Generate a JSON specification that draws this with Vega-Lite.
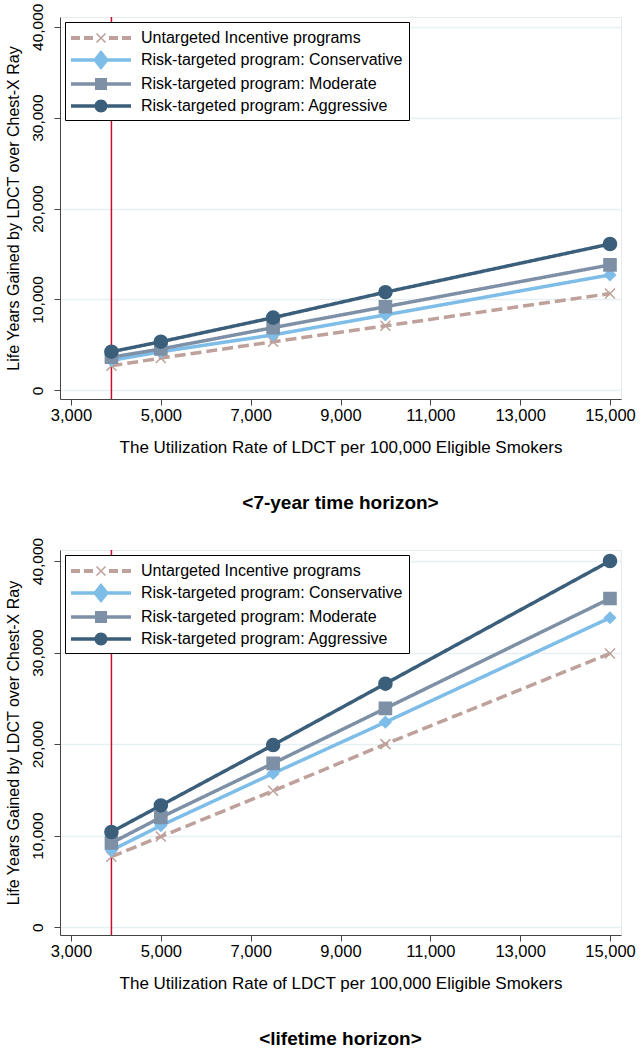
{
  "$schema": "https://vega.github.io/schema/vega-lite/v6.json",
  "background": "white",
  "padding": {"left": 4, "top": 2, "right": 4, "bottom": 0},
  "config": {
    "font": "Liberation Sans",
    "view": {"stroke": "#e3ebee", "strokeWidth": 1},
    "axis": {
      "titleFontWeight": "normal",
      "labelColor": "#000", "titleColor": "#000", "domainColor": "#444", "tickColor": "#444",
      "tickSize": 6, "labelFlush": false, "labelOverlap": false
    },
    "axisX": {"grid": false, "labelFontSize": 16.5, "titleFontSize": 17, "labelPadding": 2, "titlePadding": 16},
    "axisY": {"grid": true, "gridColor": "#e6eff1", "gridWidth": 1.5, "labelFontSize": 15.5, "titleFontSize": 16, "labelAngle": -90, "labelAlign": "center", "labelBaseline": "bottom", "labelPadding": 9, "titlePadding": 9},
    "legend": {
      "orient": "top-left", "offset": 5, "strokeColor": "#000", "strokeWidth": 1, "fillColor": "white",
      "padding": 6, "labelFontSize": 16, "labelColor": "#000", "rowPadding": 4, "symbolSize": 400, "labelOffset": 50, "labelLimit": 400
    },
    "title": {"fontSize": 19, "fontWeight": "bold", "color": "#000"}
  },
  "datasets": {
    "seven": [
      {"x": 3900, "y": 2700, "series": "Untargeted Incentive programs"},
      {"x": 5000, "y": 3550, "series": "Untargeted Incentive programs"},
      {"x": 7500, "y": 5350, "series": "Untargeted Incentive programs"},
      {"x": 10000, "y": 7100, "series": "Untargeted Incentive programs"},
      {"x": 15000, "y": 10650, "series": "Untargeted Incentive programs"},
      {"x": 3900, "y": 3300, "series": "Risk-targeted program: Conservative"},
      {"x": 5000, "y": 4250, "series": "Risk-targeted program: Conservative"},
      {"x": 7500, "y": 6100, "series": "Risk-targeted program: Conservative"},
      {"x": 10000, "y": 8300, "series": "Risk-targeted program: Conservative"},
      {"x": 15000, "y": 12700, "series": "Risk-targeted program: Conservative"},
      {"x": 3900, "y": 3650, "series": "Risk-targeted program: Moderate"},
      {"x": 5000, "y": 4550, "series": "Risk-targeted program: Moderate"},
      {"x": 7500, "y": 6900, "series": "Risk-targeted program: Moderate"},
      {"x": 10000, "y": 9200, "series": "Risk-targeted program: Moderate"},
      {"x": 15000, "y": 13800, "series": "Risk-targeted program: Moderate"},
      {"x": 3900, "y": 4250, "series": "Risk-targeted program: Aggressive"},
      {"x": 5000, "y": 5350, "series": "Risk-targeted program: Aggressive"},
      {"x": 7500, "y": 8000, "series": "Risk-targeted program: Aggressive"},
      {"x": 10000, "y": 10800, "series": "Risk-targeted program: Aggressive"},
      {"x": 15000, "y": 16100, "series": "Risk-targeted program: Aggressive"}
    ],
    "life": [
      {"x": 3900, "y": 7700, "series": "Untargeted Incentive programs"},
      {"x": 5000, "y": 9900, "series": "Untargeted Incentive programs"},
      {"x": 7500, "y": 14900, "series": "Untargeted Incentive programs"},
      {"x": 10000, "y": 20000, "series": "Untargeted Incentive programs"},
      {"x": 15000, "y": 29900, "series": "Untargeted Incentive programs"},
      {"x": 3900, "y": 8400, "series": "Risk-targeted program: Conservative"},
      {"x": 5000, "y": 11100, "series": "Risk-targeted program: Conservative"},
      {"x": 7500, "y": 16800, "series": "Risk-targeted program: Conservative"},
      {"x": 10000, "y": 22400, "series": "Risk-targeted program: Conservative"},
      {"x": 15000, "y": 33800, "series": "Risk-targeted program: Conservative"},
      {"x": 3900, "y": 9200, "series": "Risk-targeted program: Moderate"},
      {"x": 5000, "y": 12000, "series": "Risk-targeted program: Moderate"},
      {"x": 7500, "y": 17900, "series": "Risk-targeted program: Moderate"},
      {"x": 10000, "y": 23900, "series": "Risk-targeted program: Moderate"},
      {"x": 15000, "y": 35900, "series": "Risk-targeted program: Moderate"},
      {"x": 3900, "y": 10400, "series": "Risk-targeted program: Aggressive"},
      {"x": 5000, "y": 13300, "series": "Risk-targeted program: Aggressive"},
      {"x": 7500, "y": 19900, "series": "Risk-targeted program: Aggressive"},
      {"x": 10000, "y": 26600, "series": "Risk-targeted program: Aggressive"},
      {"x": 15000, "y": 40000, "series": "Risk-targeted program: Aggressive"}
    ],
    "ref": [{"x": 3900}]
  },
  "resolve": {"legend": {"color": "independent"}},
  "spacing": 23,
  "vconcat": [
    {
      "width": 561, "height": 382,
      "title": {"text": "<7-year time horizon>", "orient": "bottom", "anchor": "middle", "offset": 38},
      "layer": [
        {"data": {"name": "ref"}, "mark": {"type": "rule", "color": "#c8102e", "strokeWidth": 1.5},
         "encoding": {"x": {"field": "x", "type": "quantitative", "scale": {"domain": [2755, 15245], "nice": false, "zero": false}, "axis": {"values": [3000, 5000, 7000, 9000, 11000, 13000, 15000], "format": ",.0f", "title": "The Utilization Rate of LDCT per 100,000 Eligible Smokers"}}}},
        {"data": {"name": "seven"}, "mark": {"type": "line", "strokeWidth": 3.5},
         "encoding": {
           "x": {"field": "x", "type": "quantitative"},
           "y": {"field": "y", "type": "quantitative", "scale": {"domain": [-950, 41070], "nice": false, "zero": false}, "axis": {"values": [0, 10000, 20000, 30000, 40000], "format": ",.0f", "title": "Life Years Gained by LDCT over Chest-X Ray"}},
           "color": {"field": "series", "type": "nominal",
             "scale": {"domain": ["Untargeted Incentive programs", "Risk-targeted program: Conservative", "Risk-targeted program: Moderate", "Risk-targeted program: Aggressive"], "range": ["#bfa19c", "#7ebde8", "#7d90a6", "#3b5f7b"]},
             "legend": {"title": null, "encode": {"symbols": {"update": {
               "shape": {"signal": "datum.value === 'Untargeted Incentive programs' ? 'M-1,-0.2L-0.1,-0.2L-0.1,0.2L-1,0.2Z M0.3,-0.2L1.2,-0.2L1.2,0.2L0.3,0.2Z M2.8,-0.2L3.7,-0.2L3.7,0.2L2.8,0.2Z M4.1,-0.2L5,-0.2L5,0.2L4.1,0.2Z M1.607,-0.507L2.507,0.393L2.393,0.507L1.493,-0.393Z M1.493,0.393L2.393,-0.507L2.507,-0.393L1.607,0.507Z' : datum.value === 'Risk-targeted program: Conservative' ? 'M-1,-0.17L5,-0.17L5,0.17L-1,0.17Z M2,-1L2.8,0L2,1L1.2,0Z' : datum.value === 'Risk-targeted program: Moderate' ? 'M-1,-0.17L5,-0.17L5,0.17L-1,0.17Z M1.4,-0.6L2.6,-0.6L2.6,0.6L1.4,0.6Z' : 'M-1,-0.17L5,-0.17L5,0.17L-1,0.17Z M1.35,0A0.65,0.65 0 1,1 2.65,0A0.65,0.65 0 1,1 1.35,0Z'"},
               "fill": {"signal": "datum.value === 'Untargeted Incentive programs' ? '#bfa19c' : datum.value === 'Risk-targeted program: Conservative' ? '#7ebde8' : datum.value === 'Risk-targeted program: Moderate' ? '#7d90a6' : '#3b5f7b'"},
               "fillOpacity": {"value": 1}, "opacity": {"value": 1}, "strokeWidth": {"value": 0}, "size": {"value": 400}, "strokeDash": {"value": []}
             }}}}},
           "strokeDash": {"field": "series", "type": "nominal", "scale": {"domain": ["Untargeted Incentive programs", "Risk-targeted program: Conservative", "Risk-targeted program: Moderate", "Risk-targeted program: Aggressive"], "range": [[11, 5], [1, 0], [1, 0], [1, 0]]}, "legend": null}
         }},
        {"data": {"name": "seven"}, "mark": {"type": "point", "filled": true, "opacity": 1, "strokeWidth": 1.5},
         "encoding": {
           "x": {"field": "x", "type": "quantitative"},
           "y": {"field": "y", "type": "quantitative"},
           "color": {"field": "series", "type": "nominal"},
           "stroke": {"field": "series", "type": "nominal", "scale": {"domain": ["Untargeted Incentive programs", "Risk-targeted program: Conservative", "Risk-targeted program: Moderate", "Risk-targeted program: Aggressive"], "range": ["#bfa19c", "#7ebde8", "#7d90a6", "#3b5f7b"]}, "legend": null},
           "shape": {"field": "series", "type": "nominal", "scale": {"domain": ["Untargeted Incentive programs", "Risk-targeted program: Conservative", "Risk-targeted program: Moderate", "Risk-targeted program: Aggressive"], "range": ["M-1,-1L1,1M1,-1L-1,1", "diamond", "square", "circle"]}, "legend": null},
           "size": {"field": "series", "type": "nominal", "scale": {"domain": ["Untargeted Incentive programs", "Risk-targeted program: Conservative", "Risk-targeted program: Moderate", "Risk-targeted program: Aggressive"], "range": [100, 170, 100, 90]}, "legend": null}
         }}
      ]
    },
    {
      "width": 561, "height": 385,
      "title": {"text": "<lifetime horizon>", "orient": "bottom", "anchor": "middle", "offset": 38},
      "layer": [
        {"data": {"name": "ref"}, "mark": {"type": "rule", "color": "#c8102e", "strokeWidth": 1.5},
         "encoding": {"x": {"field": "x", "type": "quantitative", "scale": {"domain": [2755, 15245], "nice": false, "zero": false}, "axis": {"values": [3000, 5000, 7000, 9000, 11000, 13000, 15000], "format": ",.0f", "title": "The Utilization Rate of LDCT per 100,000 Eligible Smokers"}}}},
        {"data": {"name": "life"}, "mark": {"type": "line", "strokeWidth": 3.5},
         "encoding": {
           "x": {"field": "x", "type": "quantitative"},
           "y": {"field": "y", "type": "quantitative", "scale": {"domain": [-850, 41200], "nice": false, "zero": false}, "axis": {"values": [0, 10000, 20000, 30000, 40000], "format": ",.0f", "title": "Life Years Gained by LDCT over Chest-X Ray"}},
           "color": {"field": "series", "type": "nominal",
             "scale": {"domain": ["Untargeted Incentive programs", "Risk-targeted program: Conservative", "Risk-targeted program: Moderate", "Risk-targeted program: Aggressive"], "range": ["#bfa19c", "#7ebde8", "#7d90a6", "#3b5f7b"]},
             "legend": {"title": null, "encode": {"symbols": {"update": {
               "shape": {"signal": "datum.value === 'Untargeted Incentive programs' ? 'M-1,-0.2L-0.1,-0.2L-0.1,0.2L-1,0.2Z M0.3,-0.2L1.2,-0.2L1.2,0.2L0.3,0.2Z M2.8,-0.2L3.7,-0.2L3.7,0.2L2.8,0.2Z M4.1,-0.2L5,-0.2L5,0.2L4.1,0.2Z M1.607,-0.507L2.507,0.393L2.393,0.507L1.493,-0.393Z M1.493,0.393L2.393,-0.507L2.507,-0.393L1.607,0.507Z' : datum.value === 'Risk-targeted program: Conservative' ? 'M-1,-0.17L5,-0.17L5,0.17L-1,0.17Z M2,-1L2.8,0L2,1L1.2,0Z' : datum.value === 'Risk-targeted program: Moderate' ? 'M-1,-0.17L5,-0.17L5,0.17L-1,0.17Z M1.4,-0.6L2.6,-0.6L2.6,0.6L1.4,0.6Z' : 'M-1,-0.17L5,-0.17L5,0.17L-1,0.17Z M1.35,0A0.65,0.65 0 1,1 2.65,0A0.65,0.65 0 1,1 1.35,0Z'"},
               "fill": {"signal": "datum.value === 'Untargeted Incentive programs' ? '#bfa19c' : datum.value === 'Risk-targeted program: Conservative' ? '#7ebde8' : datum.value === 'Risk-targeted program: Moderate' ? '#7d90a6' : '#3b5f7b'"},
               "fillOpacity": {"value": 1}, "opacity": {"value": 1}, "strokeWidth": {"value": 0}, "size": {"value": 400}, "strokeDash": {"value": []}
             }}}}},
           "strokeDash": {"field": "series", "type": "nominal", "scale": {"domain": ["Untargeted Incentive programs", "Risk-targeted program: Conservative", "Risk-targeted program: Moderate", "Risk-targeted program: Aggressive"], "range": [[11, 5], [1, 0], [1, 0], [1, 0]]}, "legend": null}
         }},
        {"data": {"name": "life"}, "mark": {"type": "point", "filled": true, "opacity": 1, "strokeWidth": 1.5},
         "encoding": {
           "x": {"field": "x", "type": "quantitative"},
           "y": {"field": "y", "type": "quantitative"},
           "color": {"field": "series", "type": "nominal"},
           "stroke": {"field": "series", "type": "nominal", "scale": {"domain": ["Untargeted Incentive programs", "Risk-targeted program: Conservative", "Risk-targeted program: Moderate", "Risk-targeted program: Aggressive"], "range": ["#bfa19c", "#7ebde8", "#7d90a6", "#3b5f7b"]}, "legend": null},
           "shape": {"field": "series", "type": "nominal", "scale": {"domain": ["Untargeted Incentive programs", "Risk-targeted program: Conservative", "Risk-targeted program: Moderate", "Risk-targeted program: Aggressive"], "range": ["M-1,-1L1,1M1,-1L-1,1", "diamond", "square", "circle"]}, "legend": null},
           "size": {"field": "series", "type": "nominal", "scale": {"domain": ["Untargeted Incentive programs", "Risk-targeted program: Conservative", "Risk-targeted program: Moderate", "Risk-targeted program: Aggressive"], "range": [100, 170, 100, 90]}, "legend": null}
         }}
      ]
    }
  ]
}
